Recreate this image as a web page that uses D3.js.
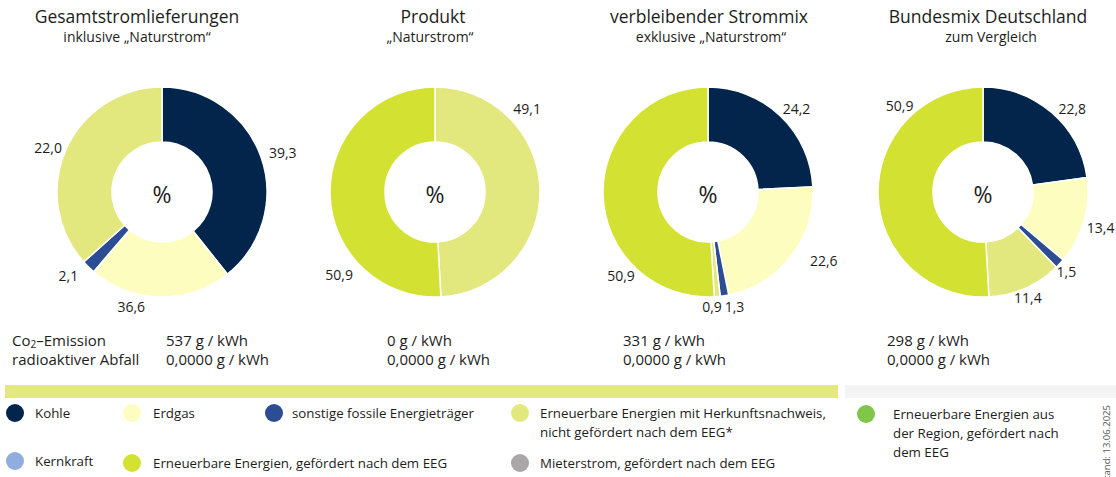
<!DOCTYPE html>
<html>
<head>
<meta charset="utf-8">
<script src="https://cdn.jsdelivr.net/npm/d3@7"></script>
<style>
  body { margin: 0; background: #fff; }
  svg { display: block; font-family: "Open Sans", sans-serif; fill: #1d1d1b; }
</style>
</head>
<body>
<svg id="chart" width="1116" height="477"></svg>
<script>
// energy sources, in slice order (clockwise from 12 o'clock)
const sources = ['Kohle', 'Erdgas', 'sonstige fossile Energieträger',
  'Erneuerbare Energien mit Herkunftsnachweis, nicht gefördert nach dem EEG*',
  'Erneuerbare Energien, gefördert nach dem EEG'];
const sourceColors = ['#03254c', '#fdfdbf', '#2c4d93', '#e2e77e', '#d3e232'];

const titles = ['Gesamtstromlieferungen', 'Produkt', 'verbleibender Strommix', 'Bundesmix Deutschland'];
const subtitles = ['inklusive „Naturstrom“', '„Naturstrom“', 'exklusive „Naturstrom“', 'zum Vergleich'];

// slice shares in % (as drawn)
const gesamtValues = [39.3, 22.0, 2.1, 36.6, 0];
const produktValues = [0, 0, 0, 49.1, 50.9];
const restmixValues = [24.2, 22.6, 1.3, 0.9, 50.9];
const bundesValues = [22.8, 13.4, 1.5, 11.4, 50.9];

// printed labels (in the original the Erdgas / HKN labels of the first ring are swapped)
const gesamtLabels = ['39,3', '36,6', '2,1', '22,0', null];
const produktLabels = [null, null, null, '49,1', '50,9'];
const restmixLabels = ['24,2', '22,6', '1,3', '0,9', '50,9'];
const bundesLabels = ['22,8', '13,4', '1,5', '11,4', '50,9'];

const co2Emission = ['537 g / kWh', '0 g / kWh', '331 g / kWh', '298 g / kWh'];
const radioWaste = ['0,0000 g / kWh', '0,0000 g / kWh', '0,0000 g / kWh', '0,0000 g / kWh'];

const legendNames = ['Kohle', 'Erdgas', 'sonstige fossile Energieträger',
  ['Erneuerbare Energien mit Herkunftsnachweis,', 'nicht gefördert nach dem EEG*'],
  ['Erneuerbare Energien aus', 'der Region, gefördert nach', 'dem EEG'],
  'Kernkraft', 'Erneuerbare Energien, gefördert nach dem EEG', 'Mieterstrom, gefördert nach dem EEG'];
const legendColors = ['#03254c', '#fdfdbf', '#2c4d93', '#e2e77e', '#80c64a', '#8fadde', '#d3e232', '#a9a7a8'];

// layout
const centers = [162, 435, 708, 983];
const cy = 192;
const outerR = 105, innerR = 50;
const titleX = [137, 433, 709, 988];
const subX = [137, 430, 711, 991];
const valueX = [166, 387, 623, 887];
// label angle (deg, clockwise from top) and radius per slice
const labelPos = [
  [[72, 127], [195, 119], [228, 126], [291, 122], null],
  [null, null, null, [48, 124], [229, 127]],
  [[47, 121], [121, 135], [167, 118], [178, 115], [226, 121]],
  [[47, 122], [107, 123], [134, 116], [157, 115], [316, 120]]
];
const legendPos = [[15, 413], [132, 413], [274, 413], [520, 413], [866, 414], [15, 461], [132, 463], [520, 463]];
const legendTextX = [35, 153, 292, 540, 893, 35, 153, 540];

const svg = d3.select('#chart');
const rings = [
  { values: gesamtValues, labels: gesamtLabels },
  { values: produktValues, labels: produktLabels },
  { values: restmixValues, labels: restmixLabels },
  { values: bundesValues, labels: bundesLabels }
];

const pie = d3.pie().sort(null).value(d => d);
const arc = d3.arc().innerRadius(innerR).outerRadius(outerR);
const color = d3.scaleOrdinal().domain(sources).range(sourceColors);

rings.forEach((ring, i) => {
  svg.append('text')
    .attr('x', titleX[i]).attr('y', 23)
    .attr('text-anchor', 'middle')
    .style('font-size', '17.5px')
    .text(titles[i]);
  svg.append('text')
    .attr('x', subX[i]).attr('y', 42)
    .attr('text-anchor', 'middle')
    .style('font-size', '14px')
    .text(subtitles[i]);

  const g = svg.append('g').attr('transform', `translate(${centers[i]},${cy})`);
  g.selectAll('path')
    .data(pie(ring.values).filter(d => d.value > 0))
    .join('path')
    .attr('d', arc)
    .attr('fill', d => color(sources[d.index]))
    .attr('stroke', '#fff')
    .attr('stroke-width', 1.5);

  g.append('text')
    .attr('text-anchor', 'middle')
    .attr('dy', '0.35em')
    .attr('y', 3)
    .style('font-size', '23px')
    .text('%');

  ring.labels.forEach((lab, j) => {
    if (!lab) return;
    const [deg, r] = labelPos[i][j];
    const a = deg * Math.PI / 180;
    const p = d3.arc().innerRadius(r).outerRadius(r).startAngle(a).endAngle(a).centroid();
    g.append('text')
      .attr('x', p[0]).attr('y', p[1])
      .attr('text-anchor', 'middle')
      .attr('dy', '0.35em')
      .style('font-size', '14px')
      .text(lab);
  });

  svg.append('text').attr('x', valueX[i]).attr('y', 346).style('font-size', '15px').text(co2Emission[i]);
  svg.append('text').attr('x', valueX[i]).attr('y', 365).style('font-size', '15px').text(radioWaste[i]);
});

// row headers
const rowHead = svg.append('g').style('font-size', '15px');
const co2 = rowHead.append('text').attr('x', 12).attr('y', 346);
co2.append('tspan').text('Co');
co2.append('tspan').attr('dy', 2).style('font-size', '10px').text('2');
co2.append('tspan').attr('dy', -2).text('–Emission');
rowHead.append('text').attr('x', 12).attr('y', 365).text('radioaktiver Abfall');

// separator bars
svg.append('rect').attr('x', 5).attr('y', 385).attr('width', 833).attr('height', 13).attr('fill', '#e3e87f');
svg.append('rect').attr('x', 845).attr('y', 385).attr('width', 271).attr('height', 13).attr('fill', '#f4f4f4');

// legend
const legend = svg.append('g').style('font-size', '13.3px');
legendNames.forEach((name, k) => {
  const [lx, ly] = legendPos[k];
  legend.append('circle').attr('cx', lx).attr('cy', ly).attr('r', 9).attr('fill', legendColors[k]);
  const lines = Array.isArray(name) ? name : [name];
  const t = legend.append('text').attr('x', legendTextX[k]).attr('y', ly + 5);
  lines.forEach((ln, m) => {
    t.append('tspan').attr('x', legendTextX[k]).attr('dy', m === 0 ? 0 : 19).text(ln);
  });
});

// date stamp, rotated, clipped by the bottom edge
svg.append('text')
  .attr('transform', 'translate(1110,484) rotate(-90)')
  .style('font-size', '9.5px')
  .style('fill', '#555')
  .text('Stand: 13.06.2025');
</script>
</body>
</html>
